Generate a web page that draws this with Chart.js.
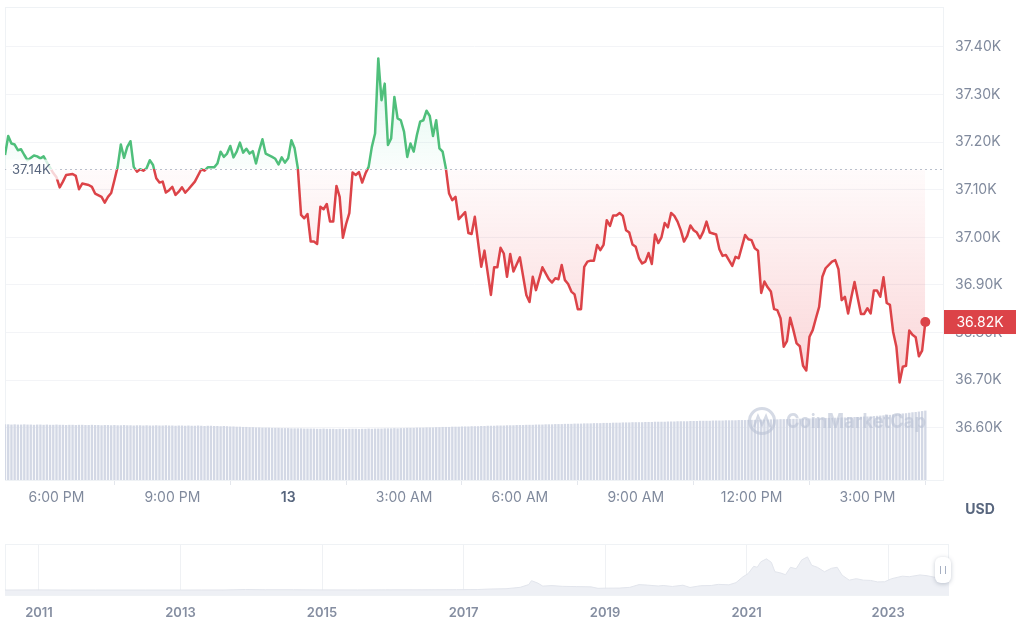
<!DOCTYPE html>
<html lang="en">
<head>
<meta charset="UTF-8">
<title>BTC / USD - 24h</title>
<style>
    * { margin: 0; padding: 0; box-sizing: border-box; }
    body { width: 1024px; height: 631px; background: #fff; position: relative; overflow: hidden; font-family: Inter, 'Noto Sans', sans-serif; }
    #main { position: absolute; left: 0; top: 0; }
    #nav { position: absolute; left: 0; top: 530px; }
    .handle { position: absolute; left: 935px; top: 557px; width: 16px; height: 26px; background: #fff; border-radius: 6px; box-shadow: 0 1px 4px rgba(88, 102, 126, 0.35); }
    .handle span { position: absolute; left: 5px; top: 9px; width: 6px; height: 8px; border-left: 1.5px solid #a6b0c3; border-right: 1.5px solid #a6b0c3; }
</style>
<script src="https://cdn.jsdelivr.net/npm/chart.js"></script>
</head>
<body>
<canvas id="main" width="1024" height="530"></canvas>
<canvas id="nav" width="1024" height="101"></canvas>
<div class="handle"><span></span></div>
<script>
// open price of the window (USD) - the dotted reference line
const BASE = 37144;

// minutes after 4:40 PM (Nov 12)
const priceMinutes = [
    0, 5, 10, 15, 20, 25, 30, 35, 45, 50,
    55, 60, 65, 75, 80, 85, 90, 95, 105, 110,
    115, 120, 130, 135, 140, 150, 155, 160, 165, 170,
    175, 180, 185, 190, 195, 200, 205, 210, 215, 220,
    225, 230, 235, 240, 245, 250, 255, 260, 265, 270,
    275, 280, 285, 295, 305, 310, 315, 325, 330, 335,
    340, 345, 350, 355, 360, 365, 370, 375, 380, 385,
    390, 395, 400, 405, 415, 420, 425, 430, 435, 440,
    445, 450, 455, 460, 465, 470, 475, 480, 485, 490,
    495, 500, 505, 510, 515, 520, 525, 530, 535, 540,
    545, 550, 555, 560, 565, 570, 575, 580, 585, 590,
    595, 600, 605, 610, 615, 620, 625, 630, 635, 640,
    645, 650, 655, 660, 665, 670, 675, 680, 685, 690,
    695, 700, 705, 715, 720, 725, 730, 740, 745, 755,
    760, 765, 770, 775, 780, 785, 790, 800, 810, 815,
    820, 825, 835, 845, 850, 855, 860, 865, 870, 875,
    880, 885, 890, 895, 900, 905, 910, 915, 920, 925,
    930, 935, 940, 945, 950, 955, 960, 965, 970, 975,
    980, 985, 990, 995, 1000, 1005, 1010, 1015, 1020, 1025,
    1030, 1035, 1040, 1045, 1050, 1055, 1060, 1065, 1070, 1075,
    1080, 1085, 1090, 1095, 1105, 1110, 1115, 1120, 1130, 1135,
    1140, 1150, 1155, 1160, 1165, 1170, 1175, 1180, 1185, 1190,
    1195, 1200, 1205, 1210, 1215, 1220, 1225, 1230, 1235, 1240,
    1245, 1250, 1255, 1260, 1265, 1270, 1275, 1285, 1290, 1295,
    1300, 1305, 1310, 1315, 1320, 1325, 1330, 1335, 1340, 1345,
    1350, 1355, 1360, 1365, 1370, 1375, 1380, 1385, 1390, 1395,
    1400, 1405, 1410, 1415, 1420, 1425, 1430
];
const priceValues = [
    37173, 37213, 37197, 37195, 37183, 37185, 37173, 37162, 37172, 37170,
    37166, 37170, 37158, 37135, 37126, 37105, 37117, 37131, 37133, 37129,
    37101, 37113, 37110, 37106, 37092, 37085, 37073, 37085, 37093, 37120,
    37148, 37195, 37167, 37190, 37202, 37148, 37138, 37143, 37140, 37145,
    37162, 37152, 37124, 37115, 37117, 37094, 37099, 37106, 37089, 37096,
    37105, 37094, 37101, 37117, 37143, 37140, 37147, 37147, 37155, 37180,
    37169, 37176, 37192, 37168, 37180, 37199, 37178, 37186, 37176, 37181,
    37155, 37183, 37206, 37176, 37169, 37165, 37153, 37168, 37157, 37166,
    37204, 37187, 37145, 37047, 37040, 37049, 36991, 36991, 36986, 37064,
    37059, 37070, 37033, 37033, 37108, 37085, 36999, 37028, 37051, 37136,
    37131, 37137, 37115, 37134, 37148, 37190, 37218, 37376, 37288, 37323,
    37194, 37208, 37295, 37250, 37246, 37222, 37169, 37197, 37180, 37215,
    37243, 37246, 37266, 37255, 37213, 37246, 37187, 37180, 37145, 37092,
    37078, 37085, 37038, 37053, 37009, 37007, 37043, 36938, 36972, 36879,
    36937, 36937, 36978, 36966, 36917, 36965, 36928, 36958, 36879, 36864,
    36917, 36889, 36937, 36912, 36905, 36914, 36912, 36942, 36910, 36902,
    36886, 36880, 36849, 36849, 36938, 36949, 36951, 36951, 36984, 36973,
    36984, 37036, 37024, 37046, 37046, 37051, 37045, 37015, 37010, 36985,
    36980, 36956, 36945, 36949, 36967, 36944, 37006, 36988, 37000, 37030,
    37021, 37051, 37045, 37033, 37015, 36991, 37003, 37025, 37015, 37010,
    36998, 37012, 37033, 37010, 37006, 36975, 36961, 36963, 36940, 36959,
    36956, 37005, 36996, 36994, 36977, 36972, 36883, 36907, 36895, 36886,
    36849, 36847, 36830, 36770, 36782, 36831, 36805, 36777, 36771, 36730,
    36720, 36791, 36805, 36830, 36854, 36917, 36935, 36949, 36952, 36933,
    36868, 36875, 36840, 36874, 36906, 36872, 36839, 36839, 36851, 36840,
    36888, 36888, 36875, 36916, 36862, 36858, 36801, 36770, 36695, 36728,
    36730, 36804, 36795, 36790, 36750, 36762, 36822
];

// 24h volume (billion USD), one bar every 5 minutes from 4:40 PM
const volumeValues = [
    23.4, 23.4, 23.3, 23.4, 23.3, 23.3, 23.4, 23.3, 23.3, 23.2, 23.3, 23.3, 23.2, 23.3, 23.2, 23.2, 23.3, 23.2, 23.2, 23.1, 23.2, 23.2, 23.1, 23.2,
    23.2, 23.1, 23.1, 23.2, 23.1, 23.1, 23.0, 23.1, 23.1, 23.0, 23.1, 23.0, 23.0, 23.1, 23.0, 23.0, 22.9, 23.0, 23.0, 22.9, 23.0, 22.9, 22.9, 23.0,
    22.9, 22.9, 23.0, 22.9, 22.9, 22.8, 22.9, 22.9, 22.8, 22.9, 22.8, 22.8, 22.9, 22.8, 22.7, 22.8, 22.8, 22.7, 22.7, 22.6, 22.7, 22.6, 22.5, 22.5,
    22.4, 22.4, 22.3, 22.3, 22.2, 22.2, 22.1, 22.1, 22.0, 22.0, 22.0, 21.9, 21.9, 21.9, 21.8, 21.8, 21.8, 21.7, 21.7, 21.7, 21.7, 21.6, 21.6, 21.6,
    21.6, 21.5, 21.5, 21.6, 21.5, 21.5, 21.5, 21.4, 21.5, 21.5, 21.4, 21.5, 21.5, 21.5, 21.4, 21.5, 21.5, 21.6, 21.5, 21.6, 21.6, 21.6, 21.7, 21.7,
    21.7, 21.8, 21.7, 21.8, 21.8, 21.9, 21.9, 21.9, 22.0, 22.0, 22.0, 22.1, 22.1, 22.1, 22.2, 22.2, 22.3, 22.3, 22.3, 22.4, 22.4, 22.4, 22.5, 22.5,
    22.5, 22.6, 22.6, 22.6, 22.7, 22.7, 22.8, 22.8, 22.8, 22.9, 22.9, 22.9, 23.0, 23.0, 23.0, 23.1, 23.1, 23.1, 23.2, 23.2, 23.2, 23.3, 23.3, 23.3,
    23.4, 23.4, 23.4, 23.5, 23.5, 23.5, 23.6, 23.6, 23.6, 23.7, 23.7, 23.7, 23.8, 23.8, 23.8, 23.9, 23.9, 23.9, 24.0, 24.0, 24.0, 24.1, 24.1, 24.1,
    24.2, 24.2, 24.2, 24.3, 24.3, 24.3, 24.3, 24.4, 24.4, 24.4, 24.5, 24.5, 24.5, 24.5, 24.6, 24.6, 24.6, 24.7, 24.7, 24.7, 24.7, 24.8, 24.8, 24.8,
    24.9, 24.9, 24.9, 24.9, 25.0, 25.0, 25.0, 25.0, 25.1, 25.1, 25.1, 25.1, 25.2, 25.2, 25.2, 25.3, 25.3, 25.3, 25.3, 25.4, 25.4, 25.4, 25.5, 25.5,
    25.5, 25.6, 25.6, 25.6, 25.7, 25.7, 25.7, 25.8, 25.8, 25.8, 25.9, 25.9, 26.0, 26.0, 26.0, 26.1, 26.1, 26.2, 26.2, 26.2, 26.3, 26.3, 26.4, 26.4,
    26.5, 26.5, 26.6, 26.7, 26.7, 26.8, 26.9, 27.0, 27.1, 27.2, 27.3, 27.4, 27.6, 27.7, 27.8, 28.0, 28.1, 28.3, 28.5, 28.6, 28.8, 29.0, 29.2
];

const tickMinutes = [80, 260, 440, 620, 800, 980, 1160, 1340];
const tickLabels = ['6:00 PM', '9:00 PM', '13', '3:00 AM', '6:00 AM', '9:00 AM', '12:00 PM', '3:00 PM'];
const priceTicks = [36600, 36700, 36800, 36900, 37000, 37100, 37200, 37300, 37400];

// all-time overview (thousand USD)
const navYears = [
    2010.52, 2011.0, 2011.45, 2011.8, 2012.5, 2013.0, 2013.3, 2013.6, 2013.92, 2014.2,
    2014.6, 2015.0, 2015.5, 2015.9, 2016.4, 2016.9, 2017.2, 2017.4, 2017.6, 2017.8,
    2017.92, 2017.96, 2018.05, 2018.12, 2018.25, 2018.4, 2018.6, 2018.8, 2018.9, 2019.0,
    2019.2, 2019.35, 2019.48, 2019.6, 2019.75, 2019.82, 2019.95, 2020.1, 2020.2, 2020.35,
    2020.5, 2020.6, 2020.75, 2020.85, 2020.95, 2021.02, 2021.1, 2021.15, 2021.2, 2021.28,
    2021.35, 2021.4, 2021.47, 2021.55, 2021.62, 2021.7, 2021.78, 2021.86, 2021.92, 2022.0,
    2022.1, 2022.2, 2022.28, 2022.35, 2022.45, 2022.55, 2022.65, 2022.75, 2022.85, 2022.95,
    2023.05, 2023.2, 2023.3, 2023.45, 2023.55, 2023.65, 2023.75, 2023.86
];
const navPrices = [
    0.06, 0.3, 0.03, 0.005, 0.007, 0.013, 0.14, 0.1, 1.1, 0.6,
    0.6, 0.3, 0.25, 0.4, 0.5, 0.75, 1.1, 2.2, 2.7, 5.5,
    11, 19, 14, 8, 9, 7.5, 7, 6.5, 3.5, 3.8,
    4, 5.5, 11, 10, 8.2, 9.3, 7.2, 9.8, 5.2, 8.8,
    9.2, 11.5, 10.6, 15, 27, 33, 48, 46, 57, 63,
    56, 37, 35, 31, 46, 43, 61, 67, 50, 46,
    37, 44, 46, 30, 20, 23, 20, 19.5, 16.5, 16.8,
    23, 28, 27, 30.5, 29, 26, 27.5, 37
];
const navTicks = [2011, 2013, 2015, 2017, 2019, 2021, 2023];

const GREEN = '#4fbf7b';
const RED = '#dc4348';
const AXIS = '#808a9d';
const DARK = '#58667e';

Chart.defaults.font.family = "Inter, 'Noto Sans', sans-serif";

const frame = {
    id: 'frame',
    beforeDatasetsDraw(chart) {
        const { ctx, chartArea: a } = chart;
        ctx.save();
        ctx.strokeStyle = '#eff2f5';
        ctx.lineWidth = 1;
        ctx.strokeRect(a.left + 0.5, a.top + 0.5, a.right - a.left - 1, a.bottom - a.top);
        ctx.restore();
    }
};

const decor = {
    id: 'decor',
    afterDatasetsDraw(chart) {
        const { ctx, chartArea: a, scales } = chart;
        const y0 = Math.round(scales.y.getPixelForValue(BASE)) + 0.5;
        ctx.save();
        // dotted open-price line
        ctx.setLineDash([2, 3]);
        ctx.strokeStyle = '#b9c0cc';
        ctx.lineWidth = 1;
        ctx.beginPath();
        ctx.moveTo(a.left, y0);
        ctx.lineTo(a.right, y0);
        ctx.stroke();
        ctx.setLineDash([]);
        // open-price label
        ctx.fillStyle = 'rgba(255,255,255,0.78)';
        ctx.fillRect(a.left + 1, y0 - 10, 54, 20);
        ctx.fillStyle = DARK;
        ctx.font = "13px Inter, 'Noto Sans', sans-serif";
        ctx.textBaseline = 'middle';
        ctx.fillText((BASE / 1000).toFixed(2) + 'K', a.left + 7, y0 + 1);
        // watermark
        ctx.strokeStyle = 'rgba(185,193,212,0.6)';
        ctx.fillStyle = 'rgba(185,193,212,0.6)';
        ctx.lineWidth = 3;
        ctx.beginPath();
        ctx.arc(762, 421, 12.5, 0, Math.PI * 2);
        ctx.stroke();
        ctx.lineWidth = 2.2;
        ctx.beginPath();
        ctx.moveTo(754, 427);
        ctx.lineTo(758, 416);
        ctx.lineTo(762, 425);
        ctx.lineTo(766, 416);
        ctx.lineTo(770, 427);
        ctx.stroke();
        ctx.font = "bold 20px Inter, 'Noto Sans', sans-serif";
        ctx.fillText('CoinMarketCap', 786, 422, 140);
        ctx.restore();
    },
    afterDraw(chart) {
        const { ctx, chartArea: a, scales } = chart;
        const last = priceValues[priceValues.length - 1];
        const y = scales.y.getPixelForValue(last);
        ctx.save();
        ctx.fillStyle = RED;
        ctx.fillRect(a.right, y - 12, 72, 24);
        ctx.fillStyle = '#fff';
        ctx.font = "14px Inter, 'Noto Sans', sans-serif";
        ctx.textAlign = 'center';
        ctx.textBaseline = 'middle';
        ctx.fillText((last / 1000).toFixed(2) + 'K', a.right + 36, y + 1);
        ctx.fillStyle = DARK;
        ctx.font = "bold 14px Inter, 'Noto Sans', sans-serif";
        ctx.fillText('USD', 980, 510);
        ctx.restore();
    }
};

const mainChart = new Chart(document.getElementById('main'), {
    type: 'line',
    data: {
        datasets: [
            {
                type: 'line',
                label: 'Price',
                data: priceMinutes.map((m, i) => ({ x: m, y: priceValues[i] })),
                yAxisID: 'y',
                order: 0,
                borderColor: GREEN,
                borderWidth: 2.5,
                borderJoinStyle: 'round',
                tension: 0,
                pointRadius: c => (c.dataIndex === priceValues.length - 1 ? 5 : 0),
                pointBackgroundColor: RED,
                pointBorderColor: RED,
                pointBorderWidth: 0,
                fill: { target: { value: BASE }, above: 'rgba(0,0,0,0)', below: 'rgba(0,0,0,0)' }
            },
            {
                type: 'bar',
                label: 'Volume',
                data: volumeValues.map((v, i) => ({ x: i * 5, y: v })),
                yAxisID: 'yv',
                order: 1,
                backgroundColor: '#d3d8e5',
                barThickness: 1.7
            }
        ]
    },
    options: {
        responsive: false,
        animation: false,
        events: [],
        layout: { padding: { top: 7, left: 5, right: 0, bottom: 0 } },
        plugins: { legend: { display: false }, tooltip: { enabled: false } },
        scales: {
            x: {
                type: 'linear',
                min: 0,
                max: 1459,
                offset: false,
                afterBuildTicks: s => { s.ticks = tickMinutes.map(v => ({ value: v })); },
                afterFit: s => { s.height = 50; s.paddingLeft = 0; s.paddingRight = 0; },
                grid: { drawOnChartArea: false, drawTicks: true, tickLength: 5, color: '#e4e7ed' },
                border: { display: false },
                ticks: {
                    padding: 4,
                    autoSkip: false,
                    maxRotation: 0,
                    color: c => (c.tick && c.tick.value === 440 ? DARK : AXIS),
                    font: c => ({ size: 14, weight: c.tick && c.tick.value === 440 ? '600' : '400' }),
                    callback: v => tickLabels[tickMinutes.indexOf(v)]
                }
            },
            y: {
                position: 'right',
                min: 36490,
                max: 37484,
                afterBuildTicks: s => { s.ticks = priceTicks.map(v => ({ value: v })); },
                afterFit: s => { s.width = 80; s.paddingTop = 0; s.paddingBottom = 0; },
                grid: { color: '#f3f4f7', drawTicks: false },
                border: { display: false },
                ticks: {
                    padding: 11,
                    color: AXIS,
                    font: { size: 14 },
                    callback: v => (v / 1000).toFixed(2) + 'K'
                }
            },
            yv: { display: false, min: 0, max: 200 }
        }
    },
    plugins: [frame, decor]
});

// gradients depend on where the open price sits on the scale
function paint(chart) {
    const { ctx, chartArea: a, scales } = chart;
    const y0 = scales.y.getPixelForValue(BASE);
    const t = (y0 - a.top) / (a.bottom - a.top);
    const stroke = ctx.createLinearGradient(0, a.top, 0, a.bottom);
    stroke.addColorStop(0, GREEN);
    stroke.addColorStop(t, GREEN);
    stroke.addColorStop(t, RED);
    stroke.addColorStop(1, RED);
    const up = ctx.createLinearGradient(0, a.top, 0, y0);
    up.addColorStop(0, 'rgba(22,199,132,0.2)');
    up.addColorStop(1, 'rgba(22,199,132,0.02)');
    const down = ctx.createLinearGradient(0, y0, 0, a.bottom);
    down.addColorStop(0, 'rgba(234,57,67,0.02)');
    down.addColorStop(1, 'rgba(234,57,67,0.3)');
    const ds = chart.data.datasets[0];
    ds.borderColor = stroke;
    ds.fill = { target: { value: BASE }, above: up, below: down };
    chart.update('none');
}
paint(mainChart);

new Chart(document.getElementById('nav'), {
    type: 'line',
    data: {
        datasets: [{
            data: navYears.map((x, i) => ({ x, y: navPrices[i] })),
            borderColor: '#e2e5ec',
            borderWidth: 1,
            backgroundColor: '#eef0f5',
            fill: 'start',
            pointRadius: 0,
            tension: 0
        }]
    },
    options: {
        responsive: false,
        animation: false,
        events: [],
        layout: { padding: { top: 14, left: 5, right: 75, bottom: 0 } },
        plugins: { legend: { display: false }, tooltip: { enabled: false } },
        scales: {
            x: {
                type: 'linear',
                min: 2010.52,
                max: 2023.86,
                afterBuildTicks: s => { s.ticks = navTicks.map(v => ({ value: v })); },
                afterFit: s => { s.height = 36; s.paddingLeft = 0; s.paddingRight = 0; },
                grid: { color: '#eff1f4', drawTicks: false },
                border: { display: false },
                ticks: {
                    padding: 10,
                    autoSkip: false,
                    maxRotation: 0,
                    color: '#858ea1',
                    font: { size: 13, weight: '600' },
                    callback: v => String(v)
                }
            },
            y: { display: false, min: -10, max: 93 }
        }
    },
    plugins: [frame]
});
</script>
</body>
</html>
